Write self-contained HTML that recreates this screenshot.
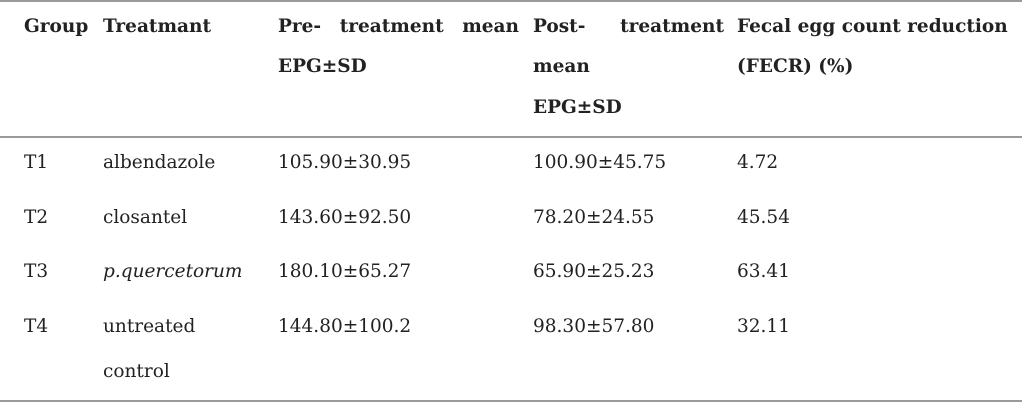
<!DOCTYPE html>
<html><head><style>
body{margin:0;width:1022px;height:403px;background:#fff;position:relative;overflow:hidden;font-family:"DejaVu Serif","Liberation Serif",serif;color:#222;font-size:18.5px}
.t{position:absolute;white-space:nowrap;line-height:20px}
.b{font-weight:bold;font-size:18.5px}
.hr{position:absolute;left:0;width:1022px;height:2px;background:#9a9a9a}
.j{display:flex;justify-content:space-between}
</style></head><body>
<div class="hr" style="top:0"></div>
<div class="hr" style="top:136px"></div>
<div class="hr" style="top:400px"></div>

<div class="t b" style="left:24px;top:17px">Group</div>
<div class="t b" style="left:103px;top:17px">Treatmant</div>
<div class="t b j" style="left:278px;top:17px;width:241px"><span>Pre-</span><span>treatment</span><span>mean</span></div>
<div class="t b" style="left:278px;top:57px">EPG±SD</div>
<div class="t b j" style="left:533px;top:17px;width:191px"><span>Post-</span><span>treatment</span></div>
<div class="t b" style="left:533px;top:57px">mean</div>
<div class="t b" style="left:533px;top:98px">EPG±SD</div>
<div class="t b" style="left:737px;top:17px">Fecal egg count reduction</div>
<div class="t b" style="left:737px;top:57px">(FECR) (%)</div>

<div class="t" style="left:24px;top:153px">T1</div>
<div class="t" style="left:103px;top:153px">albendazole</div>
<div class="t" style="left:278px;top:153px">105.90±30.95</div>
<div class="t" style="left:533px;top:153px">100.90±45.75</div>
<div class="t" style="left:737px;top:153px">4.72</div>

<div class="t" style="left:24px;top:208px">T2</div>
<div class="t" style="left:103px;top:208px">closantel</div>
<div class="t" style="left:278px;top:208px">143.60±92.50</div>
<div class="t" style="left:533px;top:208px">78.20±24.55</div>
<div class="t" style="left:737px;top:208px">45.54</div>

<div class="t" style="left:24px;top:262px">T3</div>
<div class="t" style="left:103px;top:262px;font-style:italic">p.quercetorum</div>
<div class="t" style="left:278px;top:262px">180.10±65.27</div>
<div class="t" style="left:533px;top:262px">65.90±25.23</div>
<div class="t" style="left:737px;top:262px">63.41</div>

<div class="t" style="left:24px;top:317px">T4</div>
<div class="t" style="left:103px;top:317px">untreated</div>
<div class="t" style="left:103px;top:362px">control</div>
<div class="t" style="left:278px;top:317px">144.80±100.2</div>
<div class="t" style="left:533px;top:317px">98.30±57.80</div>
<div class="t" style="left:737px;top:317px">32.11</div>
</body></html>
